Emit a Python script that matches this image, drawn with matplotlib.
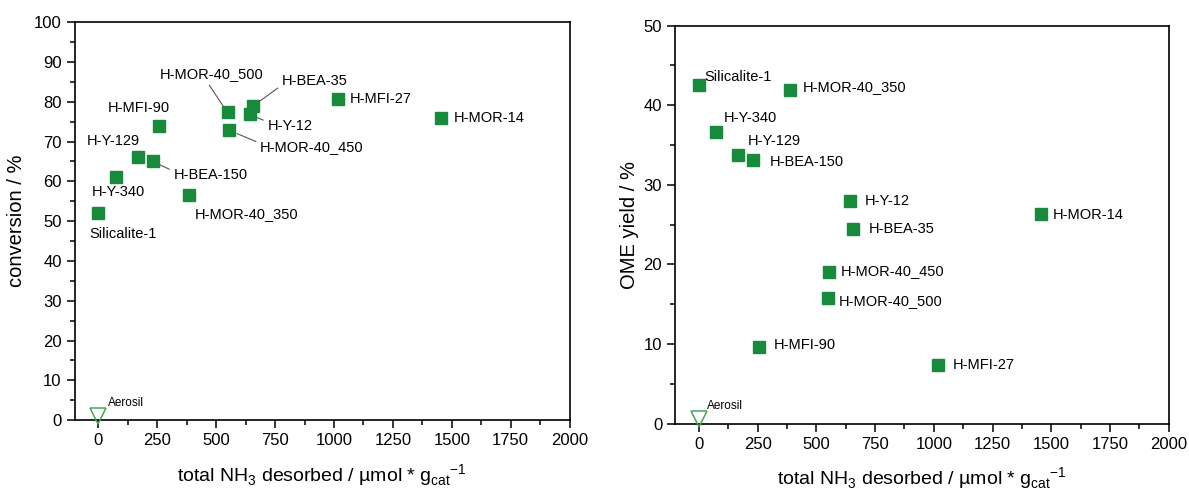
import matplotlib
matplotlib.use("Agg")
import matplotlib.pyplot as plt
from matplotlib.ticker import MultipleLocator

plt.rcParams['font.family'] = ['Liberation Sans', 'DejaVu Sans']
plt.rcParams['mathtext.fontset'] = 'custom'
plt.rcParams['mathtext.rm'] = 'Liberation Sans'

# catalyst data
catalysts = ['Silicalite-1', 'H-Y-340', 'H-Y-129', 'H-BEA-150', 'H-MFI-90',
             'H-MOR-40_350', 'H-MOR-40_500', 'H-MOR-40_450', 'H-Y-12',
             'H-BEA-35', 'H-MFI-27', 'H-MOR-14']
nh3 = [0, 74, 166, 230, 256, 386, 548, 556, 642, 658, 1018, 1455]
conversion = [52, 61, 66, 65, 74, 56.5, 77.3, 72.8, 76.8, 79, 80.8, 75.9]
ome_yield = [42.5, 36.6, 33.8, 33.1, 9.6, 41.9, 15.8, 19.1, 28.0, 24.5, 7.3, 26.3]

# reference support without acid sites
aerosil_nh3 = 0
aerosil_conv = 1.0
aerosil_yield = 0.6

# label placement (text x, text y, leader line relpos or None)
conv_labels = {
    'Silicalite-1': (-40, 46.7, None),
    'H-Y-340': (-29, 57.4, None),
    'H-Y-129': (-50, 70.1, None),
    'H-BEA-150': (318, 61.7, (0, 0.75)),
    'H-MFI-90': (39, 78.4, None),
    'H-MOR-40_350': (410, 51.9, None),
    'H-MOR-40_500': (261, 86.9, (0.45, 0)),
    'H-MOR-40_450': (686, 68.7, (0, 0.75)),
    'H-Y-12': (717, 73.9, (0, 0.8)),
    'H-BEA-35': (778, 85.2, (0, 0.2)),
    'H-MFI-27': (1065, 80.7, None),
    'H-MOR-14': (1507, 75.8, None),
}
yield_labels = {
    'Silicalite-1': (25, 43.6),
    'H-Y-340': (105, 38.4),
    'H-Y-129': (209, 35.5),
    'H-BEA-150': (301, 32.9),
    'H-MFI-90': (317, 9.9),
    'H-MOR-40_350': (441, 42.3),
    'H-MOR-40_500': (597, 15.4),
    'H-MOR-40_450': (606, 19.2),
    'H-Y-12': (705, 28.0),
    'H-BEA-35': (722, 24.5),
    'H-MFI-27': (1082, 7.3),
    'H-MOR-14': (1506, 26.2),
}

green = '#178a3c'
light_green = '#45a853'
xlabel = r'total NH$_3$ desorbed / µmol * g$_{\rm cat}$$^{-1}$'

fig = plt.figure(figsize=(11.89, 4.92), dpi=100)
ax1 = fig.add_axes([0.063, 0.146, 0.416, 0.809])
ax2 = fig.add_axes([0.568, 0.139, 0.415, 0.809])


def style_axis(ax, ymax, ymajor, yminor):
    ax.set_xlim(-100, 2000)
    ax.set_ylim(0, ymax)
    ax.xaxis.set_major_locator(MultipleLocator(250))
    ax.xaxis.set_minor_locator(MultipleLocator(125))
    ax.yaxis.set_major_locator(MultipleLocator(ymajor))
    ax.yaxis.set_minor_locator(MultipleLocator(yminor))
    ax.tick_params(which='both', direction='out', top=False, right=False,
                   width=1.1, labelsize=12)
    ax.tick_params(which='major', length=6)
    ax.tick_params(which='minor', length=3.5)
    for sp in ax.spines.values():
        sp.set_linewidth(1.2)
    ax.set_xlabel(xlabel, fontsize=14, labelpad=10)


# conversion vs acidity
ax1.plot(nh3, conversion, 's', color=green, markersize=8, linestyle='none',
         clip_on=False, zorder=3)
ax1.plot(aerosil_nh3, aerosil_conv, 'v', markersize=12, markerfacecolor='none',
         markeredgecolor=light_green, markeredgewidth=1.1, clip_on=False, zorder=3)
for name, x, y in zip(catalysts, nh3, conversion):
    tx, ty, rel = conv_labels[name]
    if rel is None:
        ax1.text(tx, ty, name, fontsize=10.5, va='center', ha='left')
    else:
        ax1.annotate(name, xy=(x, y), xytext=(tx, ty), fontsize=10.5,
                     va='center', ha='left',
                     arrowprops=dict(arrowstyle='-', color='#555555', lw=0.8,
                                     relpos=rel, shrinkA=1, shrinkB=6))
ax1.text(40, 4.2, 'Aerosil', fontsize=8.5, va='center', ha='left')
style_axis(ax1, 100, 10, 5)
ax1.set_ylabel('conversion / %', fontsize=14.5, labelpad=6)

# OME yield vs acidity
ax2.plot(nh3, ome_yield, 's', color=green, markersize=8, linestyle='none',
         clip_on=False, zorder=3)
ax2.plot(aerosil_nh3, aerosil_yield, 'v', markersize=12, markerfacecolor='none',
         markeredgecolor=light_green, markeredgewidth=1.1, clip_on=False, zorder=3)
for name in catalysts:
    tx, ty = yield_labels[name]
    ax2.text(tx, ty, name, fontsize=10.5, va='center', ha='left')
ax2.text(36, 2.2, 'Aerosil', fontsize=8.5, va='center', ha='left')
style_axis(ax2, 50, 10, 5)
ax2.set_ylabel('OME yield / %', fontsize=14.5, labelpad=3)

fig.savefig('out.png', dpi=100)
